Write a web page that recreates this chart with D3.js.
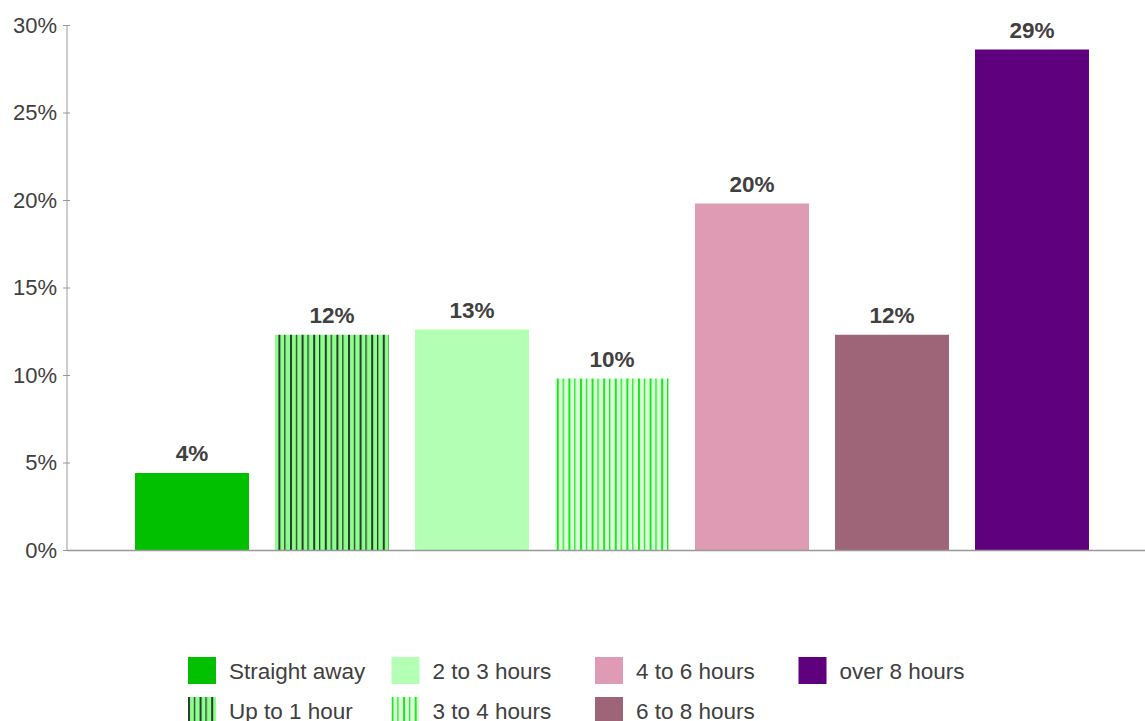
<!DOCTYPE html>
<html>
<head>
<meta charset="utf-8">
<script src="https://cdn.jsdelivr.net/npm/d3@7"></script>
<style>
  html, body { margin: 0; padding: 0; background: #fff; }
  svg { display: block; font-family: "Liberation Sans", Arial, sans-serif; }
</style>
</head>
<body>
<svg id="chart" width="1145" height="721"></svg>
<script>
// Time taken, share of respondents
const categories = ["Straight away", "Up to 1 hour", "2 to 3 hours", "3 to 4 hours",
                    "4 to 6 hours", "6 to 8 hours", "over 8 hours"];
const shares = [0.044, 0.123, 0.126, 0.098, 0.198, 0.123, 0.286];
const yTicks = [0, 0.05, 0.10, 0.15, 0.20, 0.25, 0.30];
const fills = ["#00c000", "url(#hatchDark)", "#b3ffb3", "url(#hatchLight)",
               "#de9bb3", "#9e6478", "#5f007f"];

const svg = d3.select("#chart");
const textColor = "#404040";
const axisColor = "#999999";

// Striped fills for two of the bars
const defs = svg.append("defs");
function stripes(id, bg, line, w1, w2) {
  const p = defs.append("pattern")
    .attr("id", id).attr("patternUnits", "userSpaceOnUse")
    .attr("width", 11.6).attr("height", 10);
  p.append("rect").attr("width", 11.6).attr("height", 10).attr("fill", bg);
  p.append("rect").attr("x", 0).attr("width", w1).attr("height", 10).attr("fill", line);
  p.append("rect").attr("x", 5.8).attr("width", w2).attr("height", 10).attr("fill", line);
}
stripes("hatchDark", "#8cff8c", "#2e3a2e", 2, 1.3);
stripes("hatchLight", "#dcffdc", "#1ee61e", 2, 1.3);

const y = d3.scaleLinear().domain([0, 0.30]).range([550, 25]);
const x = d3.scaleBand().domain(categories).range([122, 1102])
  .paddingInner(0.186).paddingOuter(0.093);

// Y axis
const yAxis = svg.append("g").attr("transform", "translate(67,0)")
  .call(d3.axisLeft(y).tickValues(yTicks).tickFormat(d3.format(".0%"))
    .tickSize(4).tickPadding(6));
yAxis.select(".domain").attr("stroke", axisColor).attr("d", "M0,25V550");
yAxis.selectAll(".tick line").attr("stroke", axisColor).attr("x1", 3);
yAxis.selectAll(".tick text").attr("fill", textColor)
  .style("font-size", "22px").attr("font-family", "Liberation Sans, Arial, sans-serif");

// Bars
svg.append("g").selectAll("rect").data(categories).join("rect")
  .attr("x", d => x(d))
  .attr("y", (d, i) => y(shares[i]))
  .attr("width", x.bandwidth())
  .attr("height", (d, i) => y(0) - y(shares[i]) + 1)
  .attr("fill", (d, i) => fills[i]);

// Baseline
svg.append("line").attr("x1", 67).attr("x2", 1145)
  .attr("y1", y(0) + 0.5).attr("y2", y(0) + 0.5)
  .attr("stroke", axisColor).attr("stroke-width", 1.5);

// Value labels
svg.append("g").selectAll("text").data(categories).join("text")
  .attr("x", d => x(d) + x.bandwidth() / 2)
  .attr("y", (d, i) => y(shares[i]) - 12)
  .attr("text-anchor", "middle")
  .attr("fill", textColor)
  .style("font-size", "22.5px").style("font-weight", "bold")
  .text((d, i) => d3.format(".0%")(shares[i]));

// Legend, filled column by column
const legend = svg.append("g");
const items = legend.selectAll("g").data(categories).join("g")
  .attr("transform", (d, i) => `translate(${188 + Math.floor(i / 2) * 203.5},${657 + (i % 2) * 40})`);
items.append("rect").attr("width", 28).attr("height", 27)
  .attr("fill", (d, i) => fills[i]);
items.append("text").attr("x", 41).attr("y", 14).attr("dy", "0.35em")
  .attr("fill", textColor).style("font-size", "22.5px")
  .text(d => d);
</script>
</body>
</html>
